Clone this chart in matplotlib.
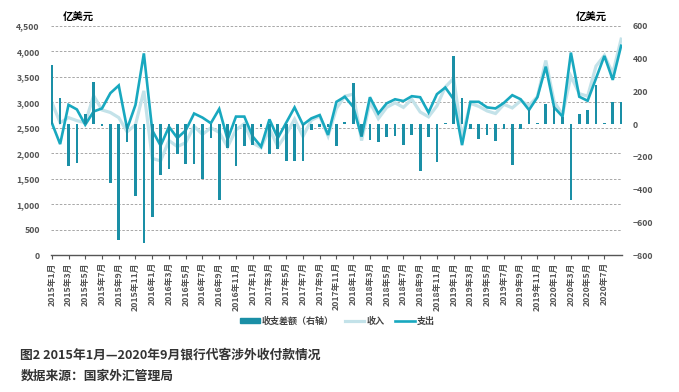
import matplotlib
matplotlib.use("Agg")
import matplotlib.pyplot as plt
from matplotlib.patches import Patch
from matplotlib.lines import Line2D
import numpy as np

plt.rcParams["font.family"] = ["Noto Sans CJK SC", "DejaVu Sans"]

# Monthly data, 2015-01 .. 2020-09 (100 million USD)
months = [f"{y}年{m}月" for y in range(2015, 2021) for m in range(1, 13)][:69]

income = [3000, 2600, 2700, 2640, 2600, 3130, 2850, 2800, 2700, 2420, 2560, 3225,
          1900, 1850, 2250, 2130, 2210, 2530, 2370, 2500, 2410, 2125, 2460, 2580,
          2200, 2110, 2480, 2130, 2370, 2670, 2330, 2650, 2730, 2340, 2880, 3120,
          3160, 2250, 3000, 2680, 2900, 2990, 2900, 3060, 2810, 2715, 2930, 3300,
          3470, 2320, 2980, 2920, 2830, 2780, 2960, 2890, 3030, 2940, 3110, 3820,
          3010, 2760, 3510, 3170, 3120, 3710, 3920, 3570, 4240]

expense = [2600, 2180, 2950, 2860, 2560, 2820, 2880, 3180, 3330, 2480, 2950, 3960,
           2450, 2150, 2520, 2300, 2450, 2780, 2700, 2590, 2870, 2270, 2720, 2720,
           2330, 2130, 2665, 2300, 2600, 2900, 2560, 2685, 2750, 2360, 3010, 3110,
           2910, 2325, 3100, 2780, 2980, 3060, 3025, 3120, 3100, 2800, 3160, 3290,
           3060, 2160, 3010, 3010, 2900, 2880, 2990, 3140, 3060, 2850, 3100, 3700,
           2900, 2720, 3975, 3110, 3030, 3470, 3910, 3440, 4110]

balance = [360, 160, -255, -235, 65, 258, -10, -362, -710, -108, -437, -728,
           -566, -311, -271, -180, -244, -246, -332, -87, -464, -145, -254, -135,
           -130, -20, -182, -150, -228, -228, -228, -35, -20, -15, -134, 12,
           250, -75, -97, -107, -81, -72, -128, -65, -288, -81, -230, 8,
           416, 157, -30, -88, -67, -100, -32, -250, -30, 86, 10, 122,
           110, 45, -462, 64, 86, 239, 10, 135, 137]

c_bar = "#1a8fa6"
c_in = "#c3e2e9"
c_out = "#18a8bf"
c_txt = "#555555"

fig = plt.figure(figsize=(6.79, 3.92), dpi=100)
ax = fig.add_axes([0.075, 0.349, 0.841, 0.585])
ax2 = ax.twinx()

x = np.arange(len(months))

ax.plot(x, income, color=c_in, lw=2.3, solid_joinstyle="miter", zorder=3)
ax.plot(x, expense, color=c_out, lw=1.9, solid_joinstyle="miter", zorder=4)
ax2.bar(x, balance, width=0.32, color=c_bar, zorder=2)

ax.set_ylim(0, 4500)
ax.set_yticks(np.arange(0, 4501, 500))
ax.set_yticklabels([f"{v:,}" for v in range(0, 4501, 500)])
ax2.set_ylim(-800, 600)
ax2.set_yticks(np.arange(-800, 601, 200))
ax.set_xlim(-0.1, 68.1)

ax.grid(axis="y", color="#9a9a9a", lw=0.6, ls=(0, (3, 2)))
ax.set_axisbelow(True)

for a in (ax, ax2):
    for s in ("top", "left", "right", "bottom"):
        a.spines[s].set_visible(False)
ax.spines["bottom"].set_visible(True)
ax.spines["bottom"].set_color("#555555")
ax.spines["bottom"].set_linewidth(1.0)

# labels every two months, last one 2020-07
ax.set_xticks(x[:67:2])
ax.set_xticklabels(months[:67:2], rotation=90, fontsize=6.3, color=c_txt,
                   fontweight="bold")
ax.tick_params(axis="x", direction="out", length=3, color="#555555", pad=2)
ax.tick_params(axis="y", length=0, labelsize=6.3, labelcolor=c_txt, pad=8)
ax2.tick_params(axis="y", length=0, labelsize=6.3, labelcolor=c_txt, pad=8)
for t in ax.get_yticklabels() + ax2.get_yticklabels():
    t.set_fontweight("bold")

fig.text(0.093, 0.957, "亿美元", fontsize=7.5, fontweight="bold", ha="left", va="center")
fig.text(0.848, 0.957, "亿美元", fontsize=7.5, fontweight="bold", ha="left", va="center")

handles = [Patch(color=c_bar), Line2D([], [], color=c_in, lw=2.3),
           Line2D([], [], color=c_out, lw=1.9)]
fig.legend(handles, ["收支差额（右轴）", "收入", "支出"], loc="center",
           bbox_to_anchor=(0.497, 0.181), ncol=3, frameon=False,
           prop={"size": 6.5, "weight": "bold"},
           handlelength=2.2, handleheight=0.5, columnspacing=1.2, handletextpad=0.2,
           labelcolor="#444444")

fig.text(0.03, 0.094, "图2 2015年1月—2020年9月银行代客涉外收付款情况",
         fontsize=9.2, color="#333333", fontweight="bold", ha="left", va="center")
fig.text(0.03, 0.040, "数据来源：国家外汇管理局",
         fontsize=9.2, color="#333333", fontweight="bold", ha="left", va="center")

fig.savefig("out.png", dpi=100)
